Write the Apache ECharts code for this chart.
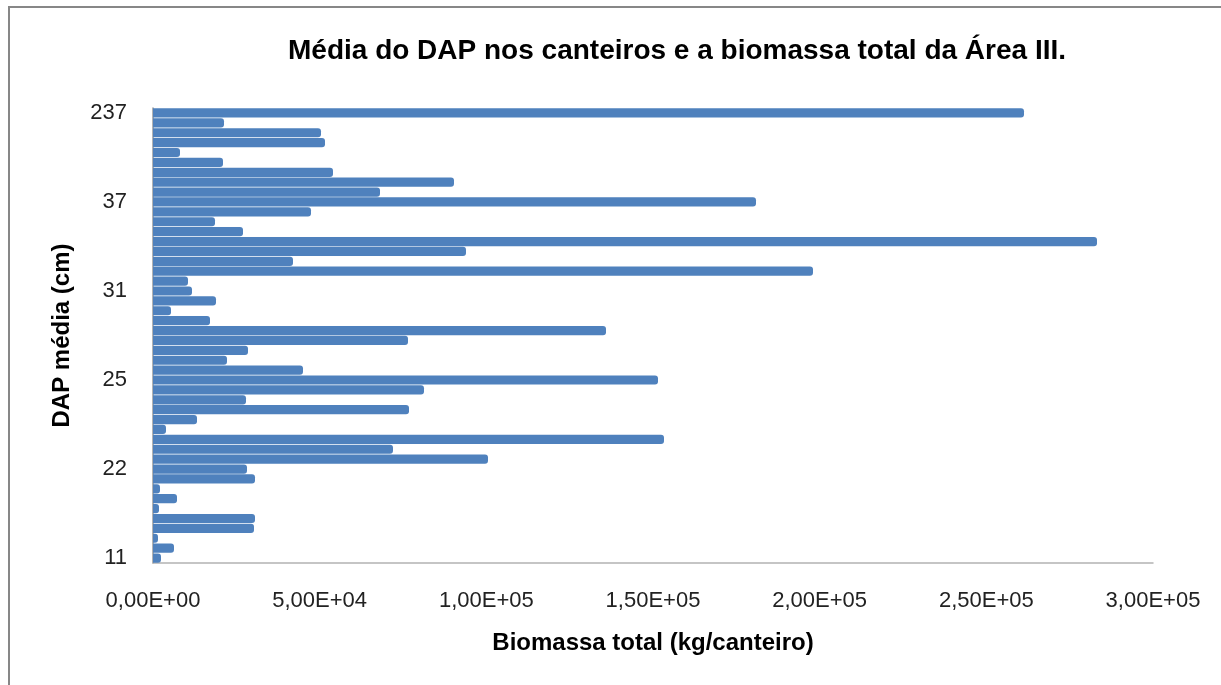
<!DOCTYPE html>
<html>
<head>
<meta charset="utf-8">
<script src="https://cdn.jsdelivr.net/npm/echarts@6/dist/echarts.min.js"></script>
<style>
html,body{margin:0;padding:0;background:#fff;}
#chart{width:1221px;height:685px;}
</style>
</head>
<body>
<div id="chart"></div>
<script>
// DAP média (cm) categories, bottom to top
const categories = [
  '11','12','13','14','15','16','17','18','20','22',
  '22','23','23','23','24','24','24','25','25','25',
  '26','26','27','28','28','29','30','31','32','32',
  '33','33','34','35','35','36','37','37','38','39',
  '40','42','44','47','52','237'
];
// Biomassa total (kg/canteiro), bottom to top
const biomassa = [
  2400, 6300, 1500, 30300, 30600, 1800, 7200, 2100, 30600, 28200,
  100500, 72000, 153300, 3900, 13200, 76800, 27900, 81300, 151500, 45000,
  22200, 28500, 76500, 135900, 17100, 5400, 18900, 11700, 10500, 198000,
  42000, 93900, 283200, 27000, 18600, 47400, 180900, 68100, 90300, 54000,
  21000, 8100, 51600, 50400, 21300, 261300
];
const titleText = 'Média do DAP nos canteiros e a biomassa total da Área III.';
const xAxisTitle = 'Biomassa total (kg/canteiro)';
const yAxisTitle = 'DAP média (cm)';

function fmtSci(v) {
  const s = Number(v).toExponential(2); // e.g. 5.00e+4
  const m = s.match(/^(-?[\d.]+)e([+-])(\d+)$/);
  let mant = m[1].replace('.', ',');
  let exp = m[3].length < 2 ? '0' + m[3] : m[3];
  return mant + 'E' + m[2] + exp;
}

const chart = echarts.init(document.getElementById('chart'), null, {renderer: 'canvas'});
const font = '"Liberation Sans", Arial, sans-serif';
chart.setOption({
  animation: false,
  backgroundColor: '#ffffff',
  textStyle: {fontFamily: font},
  graphic: [{
    type: 'rect',
    shape: {x: 9, y: 7, width: 1230, height: 700},
    style: {fill: 'none', stroke: '#878787', lineWidth: 2},
    silent: true,
    z: 100
  }],
  title: {
    text: titleText,
    left: 672,
    textAlign: 'center',
    top: 32,
    textStyle: {fontFamily: font, fontSize: 28, fontWeight: 'bold', color: '#000'}
  },
  grid: {left: 153, right: 68, top: 108, bottom: 122, containLabel: false},
  xAxis: {
    type: 'value',
    min: 0,
    max: 300000,
    interval: 50000,
    name: xAxisTitle,
    nameLocation: 'middle',
    nameGap: 68,
    nameTextStyle: {fontFamily: font, fontSize: 24, fontWeight: 'bold', color: '#000'},
    axisLine: {show: true, lineStyle: {color: '#b3b3b3', width: 1.5}},
    axisTick: {show: false},
    splitLine: {show: false},
    axisLabel: {
      formatter: fmtSci,
      margin: 27,
      fontFamily: font,
      fontSize: 22,
      color: '#222'
    }
  },
  yAxis: {
    type: 'category',
    data: categories,
    name: yAxisTitle,
    nameLocation: 'middle',
    nameGap: 79,
    nameRotate: 90,
    nameTextStyle: {fontFamily: font, fontSize: 24, fontWeight: 'bold', color: '#000'},
    axisLine: {show: true, lineStyle: {color: '#9a9a9a', width: 1.5}},
    axisTick: {show: false},
    axisLabel: {
      interval: 8,
      margin: 26,
      fontFamily: font,
      fontSize: 22,
      color: '#222'
    }
  },
  series: [{
    type: 'bar',
    data: biomassa,
    barCategoryGap: '7%',
    itemStyle: {color: '#4F81BD', borderRadius: [0, 3, 3, 0]}
  }]
});
</script>
</body>
</html>
